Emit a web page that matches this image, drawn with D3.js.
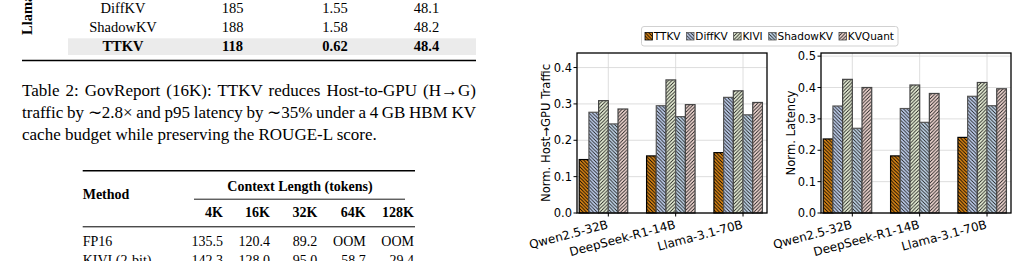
<!DOCTYPE html>
<html>
<head>
<meta charset="utf-8">
<script src="https://cdn.jsdelivr.net/npm/d3@7"></script>
<style>
  body { margin: 0; background: #fff; }
  svg { display: block; }
</style>
</head>
<body>
<svg id="page" width="1019" height="261"></svg>
<script>
"use strict";

/* ---- data ---- */

// top table (cut off): method, H->G traffic, p95 latency, ROUGE-L
var t1Methods = ["DiffKV", "ShadowKV", "TTKV"];
var t1Traffic = ["185", "188", "118"];
var t1Latency = ["1.55", "1.58", "0.62"];
var t1Rouge = ["48.1", "48.2", "48.4"];

var captionLines = [
    "Table 2: GovReport (16K): TTKV reduces Host-to-GPU (H\u2192G)",
    "traffic by \u223C2.8\u00D7 and p95 latency by \u223C35% under a 4\u2009GB HBM KV",
    "cache budget while preserving the ROUGE-L score."
];

// second table: throughput by context length
var contextLengths = ["4K", "16K", "32K", "64K", "128K"];
var t2Methods = ["FP16", "KIVI (2-bit)"];
var fp16Row = ["135.5", "120.4", "89.2", "OOM", "OOM"];
var kiviRow = ["142.3", "128.0", "95.0", "58.7", "29.4"];

// bar chart
var models = ["Qwen2.5-32B", "DeepSeek-R1-14B", "Llama-3.1-70B"];
var methods = ["TTKV", "DiffKV", "KIVI", "ShadowKV", "KVQuant"];

var trafficTTKV = [0.147, 0.157, 0.166];
var trafficDiffKV = [0.277, 0.295, 0.318];
var trafficKIVI = [0.309, 0.366, 0.336];
var trafficShadowKV = [0.245, 0.265, 0.270];
var trafficKVQuant = [0.286, 0.298, 0.304];

var latencyTTKV = [0.236, 0.182, 0.241];
var latencyDiffKV = [0.341, 0.333, 0.372];
var latencyKIVI = [0.426, 0.408, 0.416];
var latencyShadowKV = [0.270, 0.289, 0.342];
var latencyKVQuant = [0.400, 0.381, 0.396];

var trafficTicks = [0.0, 0.1, 0.2, 0.3, 0.4];
var latencyTicks = [0.0, 0.1, 0.2, 0.3, 0.4, 0.5];

/* ---- styles ---- */

var fills = ["#e08916", "#c4d4f4", "#eef6dc", "#c6dbef", "#f6dcd6"];
var edges = ["#000000", "#555555", "#444444", "#555555", "#444444"];
var hatchDir = ["back", "back", "fwd", "back", "fwd"];

var serif = "'Liberation Serif', 'Times New Roman', serif";
var sans = "'DejaVu Sans', sans-serif";

var svg = d3.select("#page");
var defs = svg.append("defs");

// hatch patterns, one per method
methods.forEach(function(m, j) {
    var s = 3.5;
    var p = defs.append("pattern")
        .attr("id", "hatch-" + j)
        .attr("patternUnits", "userSpaceOnUse")
        .attr("width", s).attr("height", s);
    p.append("rect").attr("width", s).attr("height", s).attr("fill", fills[j]);
    var d = hatchDir[j] === "back"
        ? "M0,0L" + s + "," + s + "M" + (-s) + ",0L0," + s + "M0," + (-s) + "L" + s + ",0M" + s + ",0L" + (2 * s) + "," + s + "M0," + s + "L" + s + "," + (2 * s)
        : "M0," + s + "L" + s + ",0M" + (-s) + "," + s + "L0,0M0," + (2 * s) + "L" + s + "," + s + "M" + s + "," + s + "L" + (2 * s) + ",0M0,0L" + s + "," + (-s);
    p.append("path").attr("d", d)
        .attr("stroke", j === 0 ? "#000" : "#1a1a1a").attr("stroke-width", 0.9).attr("fill", "none");
});

/* ---- top table ---- */

var t1 = svg.append("g").attr("font-family", serif).attr("font-size", 14.5).attr("fill", "#000");

t1.append("rect").attr("x", 68).attr("y", 38.3).attr("width", 408).attr("height", 16.7).attr("fill", "#ebebeb");

t1.append("text")
    .attr("transform", "translate(31.5,35) rotate(-90)")
    .attr("font-weight", "bold")
    .text("Llama-3.1-70B");

var t1Cols = [123, 232.5, 335, 426.5];
var t1Rows = t1Methods.map(function(m, i) {
    return [m, t1Traffic[i], t1Latency[i], t1Rouge[i]];
});
t1.selectAll("g.row").data(t1Rows).join("g")
    .attr("class", "row")
    .attr("font-weight", function(d) { return d[0] === "TTKV" ? "bold" : "normal"; })
    .each(function(row, i) {
        d3.select(this).selectAll("text").data(row).join("text")
            .attr("x", function(d, k) { return t1Cols[k]; })
            .attr("y", 12.7 + i * 19)
            .attr("text-anchor", "middle")
            .text(function(d) { return d; });
    });

t1.append("line").attr("x1", 22).attr("x2", 476).attr("y1", 60.5).attr("y2", 60.5)
    .attr("stroke", "#000").attr("stroke-width", 1.6);

/* ---- caption, justified like the LaTeX output ---- */

var cap = svg.append("g").attr("font-family", serif).attr("font-size", 17).attr("fill", "#000");
var capBase = [96.3, 118, 139.6];
captionLines.forEach(function(line, i) {
    var t = cap.append("text").attr("x", 22).attr("y", capBase[i]).text(line);
    if (i < 2) {
        var natural = t.node().getComputedTextLength();
        var spaces = line.split(" ").length - 1;
        var extra = (454 - natural) / spaces;
        t.style("word-spacing", extra + "px");
    }
});

/* ---- second table ---- */

var t2 = svg.append("g").attr("font-family", serif).attr("font-size", 14).attr("fill", "#000");
var t2Right = [223, 270, 317.3, 365.7, 414];

t2.append("line").attr("x1", 82.7).attr("x2", 415).attr("y1", 170.7).attr("y2", 170.7)
    .attr("stroke", "#000").attr("stroke-width", 1.6);
t2.append("text").attr("x", 82.7).attr("y", 198.8).attr("font-weight", "bold").text("Method");
t2.append("text").attr("x", 300).attr("y", 191).attr("text-anchor", "middle")
    .attr("font-weight", "bold").text("Context Length (tokens)");
t2.append("line").attr("x1", 194).attr("x2", 405).attr("y1", 199.2).attr("y2", 199.2)
    .attr("stroke", "#000").attr("stroke-width", 0.9);
t2.selectAll("text.head").data(contextLengths).join("text")
    .attr("class", "head")
    .attr("x", function(d, k) { return t2Right[k]; })
    .attr("y", 216.5)
    .attr("text-anchor", "end")
    .attr("font-weight", "bold")
    .text(function(d) { return d; });
t2.append("line").attr("x1", 82.7).attr("x2", 415).attr("y1", 226.8).attr("y2", 226.8)
    .attr("stroke", "#000").attr("stroke-width", 1);

[fp16Row, kiviRow].forEach(function(row, i) {
    var y = 246.2 + i * 18.3;
    t2.append("text").attr("x", 82.7).attr("y", y).text(t2Methods[i]);
    t2.selectAll("text.r" + i).data(row).join("text")
        .attr("class", "r" + i)
        .attr("x", function(d, k) { return t2Right[k]; })
        .attr("y", y)
        .attr("text-anchor", "end")
        .text(function(d) { return d; });
});

/* ---- bar chart panels ---- */

function drawPanel(p) {
    var g = svg.append("g").attr("font-family", sans).attr("fill", "#000");
    var x = d3.scaleLinear().domain([-0.465, 2.356]).range([p.left, p.right]);
    var y = d3.scaleLinear().domain([0, p.ymax]).range([p.bottom, p.top]);
    var w = 0.144;

    // grid
    g.selectAll("line.hg").data(p.ticks).join("line")
        .attr("class", "hg")
        .attr("x1", p.left).attr("x2", p.right)
        .attr("y1", function(d) { return y(d); }).attr("y2", function(d) { return y(d); })
        .attr("stroke", "#d6d6d6").attr("stroke-width", 0.8);
    g.selectAll("line.vg").data(models).join("line")
        .attr("class", "vg")
        .attr("x1", function(d, i) { return x(i); }).attr("x2", function(d, i) { return x(i); })
        .attr("y1", p.top).attr("y2", p.bottom)
        .attr("stroke", "#d6d6d6").attr("stroke-width", 0.8);

    // bars
    p.series.forEach(function(vals, j) {
        g.selectAll("rect.b" + j).data(vals).join("rect")
            .attr("class", "b" + j)
            .attr("x", function(d, i) { return x(i + (j - 3) * w); })
            .attr("width", x(w) - x(0))
            .attr("y", function(d) { return y(d); })
            .attr("height", function(d) { return y(0) - y(d); })
            .attr("fill", "url(#hatch-" + j + ")")
            .attr("stroke", edges[j])
            .attr("stroke-width", 1.2);
    });

    // frame
    g.append("rect")
        .attr("x", p.left).attr("y", p.top)
        .attr("width", p.right - p.left).attr("height", p.bottom - p.top)
        .attr("fill", "none").attr("stroke", "#000").attr("stroke-width", 1.3);

    // y axis
    g.selectAll("line.yt").data(p.ticks).join("line")
        .attr("class", "yt")
        .attr("x1", p.left - 3.5).attr("x2", p.left)
        .attr("y1", function(d) { return y(d); }).attr("y2", function(d) { return y(d); })
        .attr("stroke", "#000").attr("stroke-width", 1);
    g.selectAll("text.yl").data(p.ticks).join("text")
        .attr("class", "yl")
        .attr("x", p.left - 5)
        .attr("y", function(d) { return y(d); })
        .attr("dy", "0.36em")
        .attr("text-anchor", "end")
        .attr("font-size", 11.5)
        .text(function(d) { return d3.format(".1f")(d); });

    // x axis
    g.selectAll("line.xt").data(models).join("line")
        .attr("class", "xt")
        .attr("x1", function(d, i) { return x(i); }).attr("x2", function(d, i) { return x(i); })
        .attr("y1", p.bottom).attr("y2", p.bottom + 3.5)
        .attr("stroke", "#000").attr("stroke-width", 1);
    g.selectAll("text.xl").data(models).join("text")
        .attr("class", "xl")
        .attr("transform", function(d, i) { return "translate(" + (x(i) + 0.5) + "," + (p.bottom + 15) + ") rotate(-15)"; })
        .attr("text-anchor", "end")
        .attr("font-size", 12)
        .text(function(d) { return d; });

    g.append("text")
        .attr("transform", "translate(" + p.labelX + "," + ((p.top + p.bottom) / 2) + ") rotate(-90)")
        .attr("text-anchor", "middle")
        .attr("font-size", 11.6)
        .text(p.label);
}

drawPanel({
    left: 577, right: 767, top: 53, bottom: 213, ymax: 0.44,
    ticks: trafficTicks, labelX: 550,
    label: "Norm. Host\u2192GPU Traffic",
    series: [trafficTTKV, trafficDiffKV, trafficKIVI, trafficShadowKV, trafficKVQuant]
});

drawPanel({
    left: 821, right: 1011, top: 53, bottom: 213, ymax: 0.51,
    ticks: latencyTicks, labelX: 795,
    label: "Norm. Latency",
    series: [latencyTTKV, latencyDiffKV, latencyKIVI, latencyShadowKV, latencyKVQuant]
});

/* ---- shared legend ---- */

var leg = svg.append("g").attr("font-family", sans).attr("font-size", 10.5);
var box = leg.append("rect")
    .attr("x", 641.5).attr("y", 26.5).attr("height", 19.5).attr("rx", 2.5)
    .attr("fill", "#fff").attr("stroke", "#cccccc").attr("stroke-width", 0.9);
var cx = 645;
methods.forEach(function(m, j) {
    leg.append("rect")
        .attr("x", cx).attr("y", 32.5).attr("width", 7.5).attr("height", 7.5)
        .attr("fill", "url(#hatch-" + j + ")")
        .attr("stroke", edges[j]).attr("stroke-width", 0.8);
    var t = leg.append("text").attr("x", cx + 8.8).attr("y", 40).text(m);
    cx = cx + 8.8 + t.node().getComputedTextLength() + 6;
});
box.attr("width", cx - 6 + 4 - 641.5);
</script>
</body>
</html>
